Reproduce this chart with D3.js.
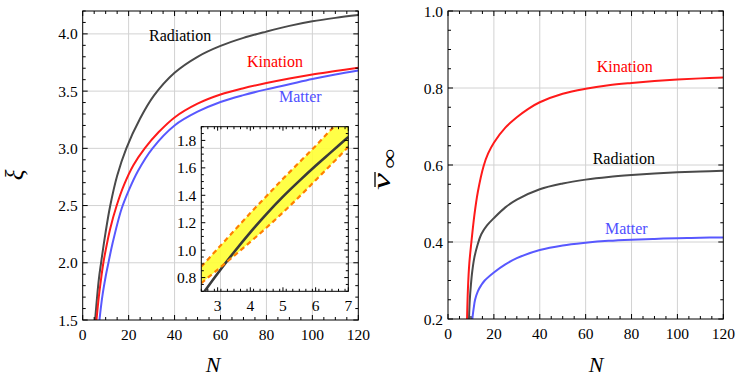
<!DOCTYPE html>
<html>
<head>
<meta charset="utf-8">
<script src="https://cdn.jsdelivr.net/npm/d3@7"></script>
<style>
  body { margin: 0; background: #fff; }
  svg text { font-family: 'Liberation Serif', 'Times New Roman', 'DejaVu Serif', serif; }
</style>
</head>
<body>
<svg id="chart" width="747" height="377"></svg>
<script>
// ---- data ----
// left panel: xi(N)
const xiRadiationN = [5.4, 7, 8, 10, 12, 15, 19, 25, 31, 40, 50, 60, 70, 80, 90, 100, 110, 120]
const xiRadiation  = [1.5, 1.85, 2.0, 2.27, 2.5, 2.76, 3.0, 3.26, 3.46, 3.66, 3.8, 3.895, 3.965, 4.02, 4.07, 4.11, 4.14, 4.165]
const xiKinationN  = [6, 7, 8, 9, 10, 12, 14.8, 18, 22, 27, 33, 40, 50, 60, 70, 80, 90, 100, 110, 120]
const xiKination   = [1.5, 1.7, 1.86, 2.0, 2.11, 2.3, 2.5, 2.68, 2.85, 3.0, 3.14, 3.27, 3.39, 3.47, 3.525, 3.57, 3.61, 3.645, 3.675, 3.705]
const xiMatterN    = [7.3, 8.5, 10, 11, 13, 16.9, 20, 24, 30.4, 40, 50, 60, 70, 80, 90, 100, 110, 120]
const xiMatter     = [1.5, 1.7, 1.88, 1.98, 2.17, 2.47, 2.63, 2.8, 3.0, 3.2, 3.32, 3.405, 3.465, 3.515, 3.56, 3.605, 3.645, 3.68]

// inset (radiation, small N) with band
const insetN      = [2.5, 3, 3.5, 4, 4.5, 5, 5.5, 6, 6.5, 7]
const insetUpper  = [0.88, 1.01, 1.14, 1.27, 1.395, 1.52, 1.64, 1.76, 1.885, 1.995]
const insetLower  = [0.76, 0.858, 0.958, 1.06, 1.165, 1.275, 1.39, 1.51, 1.63, 1.752]
const insetCurveN = [2.6, 3, 3.5, 4, 4.5, 5, 5.5, 6, 6.5, 7]
const insetCurve  = [0.70, 0.83, 0.985, 1.13, 1.265, 1.39, 1.505, 1.615, 1.72, 1.826]

// right panel: v_inf(N)
const vKinationN  = [8.3, 8.7, 9.3, 10.2, 11.5, 13, 15.5, 17.5, 20, 25, 30, 35, 40, 50, 60, 70, 80, 90, 100, 110, 120]
const vKination   = [0.2, 0.28, 0.345, 0.4, 0.47, 0.53, 0.597, 0.63, 0.658, 0.697, 0.724, 0.746, 0.763, 0.785, 0.798, 0.807, 0.813, 0.818, 0.822, 0.825, 0.827]
const vRadiationN = [9.15, 9.5, 10, 10.6, 11.5, 12.9, 14.5, 17, 20, 25, 30, 40, 50, 60, 70, 80, 90, 100, 110, 120]
const vRadiation  = [0.2, 0.25, 0.29, 0.325, 0.36, 0.393, 0.42, 0.443, 0.462, 0.49, 0.51, 0.537, 0.552, 0.562, 0.569, 0.574, 0.578, 0.581, 0.583, 0.585]
const vMatterN    = [10.6, 11.2, 11.8, 13, 14.5, 16, 20, 25, 30, 40, 50, 60, 70, 80, 90, 100, 110, 120]
const vMatter     = [0.2, 0.228, 0.25, 0.272, 0.288, 0.3, 0.321, 0.342, 0.358, 0.379, 0.391, 0.398, 0.403, 0.406, 0.408, 0.41, 0.411, 0.412]

const nTicks      = [0, 20, 40, 60, 80, 100, 120]
const xiTicks     = [1.5, 2.0, 2.5, 3.0, 3.5, 4.0]
const vTicks      = [0.2, 0.4, 0.6, 0.8, 1.0]
const insetXTicks = [3, 4, 5, 6, 7]
const insetYTicks = [0.8, 1.0, 1.2, 1.4, 1.6, 1.8]

const cBlack = '#4a4a4a', cRed = '#ff1a1a', cBlue = '#5858ff'
const tickFont = 15.5, labelFont = 16

const svg = d3.select('#chart')
const zip = (xs, ys) => xs.map((x, i) => [x, ys[i]])
const smooth = d3.curveCatmullRom.alpha(0.5)

function minorList(domain, step, majors) {
  return d3.range(domain[0], domain[1] + step / 2, step)
    .map(v => +v.toFixed(4))
    .filter(v => !majors.some(m => Math.abs(m - v) < 1e-6))
}

// frame, ticks on all four sides, labels bottom/left
function frame(g, x, y, o) {
  const [x0, x1] = x.range(), [y0, y1] = y.range()
  const t = g.append('g').attr('stroke', '#000').attr('stroke-width', 1)
  const xtick = (vals, len) => {
    vals.forEach(v => {
      const px = x(v)
      t.append('line').attr('x1', px).attr('x2', px).attr('y1', y0).attr('y2', y0 - len)
      t.append('line').attr('x1', px).attr('x2', px).attr('y1', y1).attr('y2', y1 + len)
    })
  }
  const ytick = (vals, len) => {
    vals.forEach(v => {
      const py = y(v)
      t.append('line').attr('x1', x0).attr('x2', x0 + len).attr('y1', py).attr('y2', py)
      t.append('line').attr('x1', x1).attr('x2', x1 - len).attr('y1', py).attr('y2', py)
    })
  }
  xtick(o.xMajor, o.maj); xtick(minorList(x.domain(), o.xStep, o.xMajor), o.min)
  ytick(o.yMajor, o.maj); ytick(minorList(y.domain(), o.yStep, o.yMajor), o.min)
  g.append('rect').attr('x', x0).attr('y', y1).attr('width', x1 - x0).attr('height', y0 - y1)
    .attr('fill', 'none').attr('stroke', '#000').attr('stroke-width', 1)

  g.append('g').selectAll('text').data(o.xMajor).join('text')
    .attr('x', d => x(d)).attr('y', y0 + o.xLabDy).attr('text-anchor', 'middle')
    .attr('font-size', tickFont).text(o.xFmt)
  g.append('g').selectAll('text').data(o.yMajor).join('text')
    .attr('x', x0 - 5).attr('y', d => y(d) + tickFont * 0.36).attr('text-anchor', 'end')
    .attr('font-size', tickFont).text(o.yFmt)
}

function grid(g, x, y, xs, ys) {
  const [x0, x1] = x.range(), [y0, y1] = y.range()
  const gg = g.append('g').attr('stroke', '#d2d2d2').attr('stroke-width', 1)
  xs.forEach(v => gg.append('line').attr('x1', x(v)).attr('x2', x(v)).attr('y1', y0).attr('y2', y1))
  ys.forEach(v => gg.append('line').attr('x1', x0).attr('x2', x1).attr('y1', y(v)).attr('y2', y(v)))
}

function clip(id, x, y) {
  const [x0, x1] = x.range(), [y0, y1] = y.range()
  svg.append('clipPath').attr('id', id).append('rect')
    .attr('x', x0).attr('y', y1).attr('width', x1 - x0).attr('height', y0 - y1)
}

function curve(g, x, y, pts, color, w) {
  const line = d3.line().x(d => x(d[0])).y(d => y(d[1])).curve(smooth)
  return g.append('path').attr('d', line(pts)).attr('fill', 'none')
    .attr('stroke', color).attr('stroke-width', w)
}

function label(x, y, txt, color) {
  svg.append('text').attr('x', x).attr('y', y).attr('font-size', labelFont)
    .attr('fill', color).text(txt)
}

// ---------- left panel ----------
const xL = d3.scaleLinear().domain([0, 120]).range([82.7, 358.3])
const yL = d3.scaleLinear().domain([1.5, 4.2]).range([320, 11])
const gL = svg.append('g')
grid(gL, xL, yL, [20, 40, 60, 80, 100], [2.0, 2.5, 3.0, 3.5, 4.0])
clip('clipL', xL, yL)
const cL = gL.append('g').attr('clip-path', 'url(#clipL)')
curve(cL, xL, yL, zip(xiRadiationN, xiRadiation), cBlack, 2)
curve(cL, xL, yL, zip(xiMatterN, xiMatter), cBlue, 2)
curve(cL, xL, yL, zip(xiKinationN, xiKination), cRed, 2)
frame(gL, xL, yL, {
  xMajor: nTicks, xStep: 5, yMajor: xiTicks, yStep: 0.1, maj: 5, min: 3,
  xLabDy: 19.5, xFmt: d3.format('d'), yFmt: d3.format('.1f')
})

// inset
const xI = d3.scaleLinear().domain([2.5, 7]).range([201.3, 348.3])
const yI = d3.scaleLinear().domain([0.7, 1.9]).range([291.3, 126.7])
const gI = svg.append('g')
clip('clipI', xI, yI)
const cI = gI.append('g').attr('clip-path', 'url(#clipI)')
const band = d3.area().x((d, i) => xI(insetN[i]))
  .y0((d, i) => yI(insetLower[i])).y1((d, i) => yI(insetUpper[i]))
  .curve(d3.curveMonotoneX)
cI.append('path').attr('d', band(insetN)).attr('fill', '#ffff33').attr('fill-opacity', 0.9)
curve(cI, xI, yI, zip(insetCurveN, insetCurve), '#3a3a3a', 2.6)
;[insetUpper, insetLower].forEach(s => {
  curve(cI, xI, yI, zip(insetN, s), '#ff8000', 2.2).attr('stroke-dasharray', '5,3.5')
})
frame(gI, xI, yI, {
  xMajor: insetXTicks, xStep: 0.2, yMajor: insetYTicks, yStep: 0.05, maj: 4, min: 2.5,
  xLabDy: 20, xFmt: d3.format('d'), yFmt: d3.format('.1f')
})

// ---------- right panel ----------
const xR = d3.scaleLinear().domain([0, 120]).range([448, 723.3])
const yR = d3.scaleLinear().domain([0.2, 1.0]).range([319, 11])
const gR = svg.append('g')
grid(gR, xR, yR, [20, 40, 60, 80, 100], [0.4, 0.6, 0.8])
clip('clipR', xR, yR)
const cR = gR.append('g').attr('clip-path', 'url(#clipR)')
curve(cR, xR, yR, zip(vRadiationN, vRadiation), cBlack, 2)
curve(cR, xR, yR, zip(vMatterN, vMatter), cBlue, 2)
curve(cR, xR, yR, zip(vKinationN, vKination), cRed, 2)
frame(gR, xR, yR, {
  xMajor: nTicks, xStep: 5, yMajor: vTicks, yStep: 0.05, maj: 5, min: 3,
  xLabDy: 19.5, xFmt: d3.format('d'), yFmt: d3.format('.1f')
})

// curve labels
label(149, 40.7, 'Radiation', '#000')
label(247, 66.7, 'Kination', '#ff0000')
label(279, 102.3, 'Matter', '#5050ff')
label(596.7, 72.3, 'Kination', '#ff0000')
label(592.7, 164, 'Radiation', '#000')
label(605, 234.3, 'Matter', '#5050ff')

// axis titles
svg.append('text').attr('x', 213).attr('y', 372).attr('text-anchor', 'middle')
  .attr('font-size', 22).attr('font-style', 'italic').text('N')
svg.append('text').attr('x', 596).attr('y', 372).attr('text-anchor', 'middle')
  .attr('font-size', 22).attr('font-style', 'italic').text('N')
svg.append('text').attr('transform', 'translate(23,175) rotate(-90)').attr('text-anchor', 'middle')
  .attr('font-size', 25).attr('font-style', 'italic').text('ξ')

// v-bar with infinity subscript, rotated
const vl = svg.append('g').attr('transform', 'translate(390,166) rotate(-90)')
vl.append('text').attr('x', -24).attr('y', 0).attr('font-size', 25).attr('font-style', 'italic')
  .attr('textLength', 17).attr('lengthAdjust', 'spacingAndGlyphs').text('v')
vl.append('line').attr('x1', -21).attr('x2', -6).attr('y1', -15).attr('y2', -15)
  .attr('stroke', '#000').attr('stroke-width', 1.3)
vl.append('text').attr('x', -3).attr('y', 6).attr('font-size', 20)
  .attr('textLength', 20).attr('lengthAdjust', 'spacingAndGlyphs').text('∞')
</script>
</body>
</html>
